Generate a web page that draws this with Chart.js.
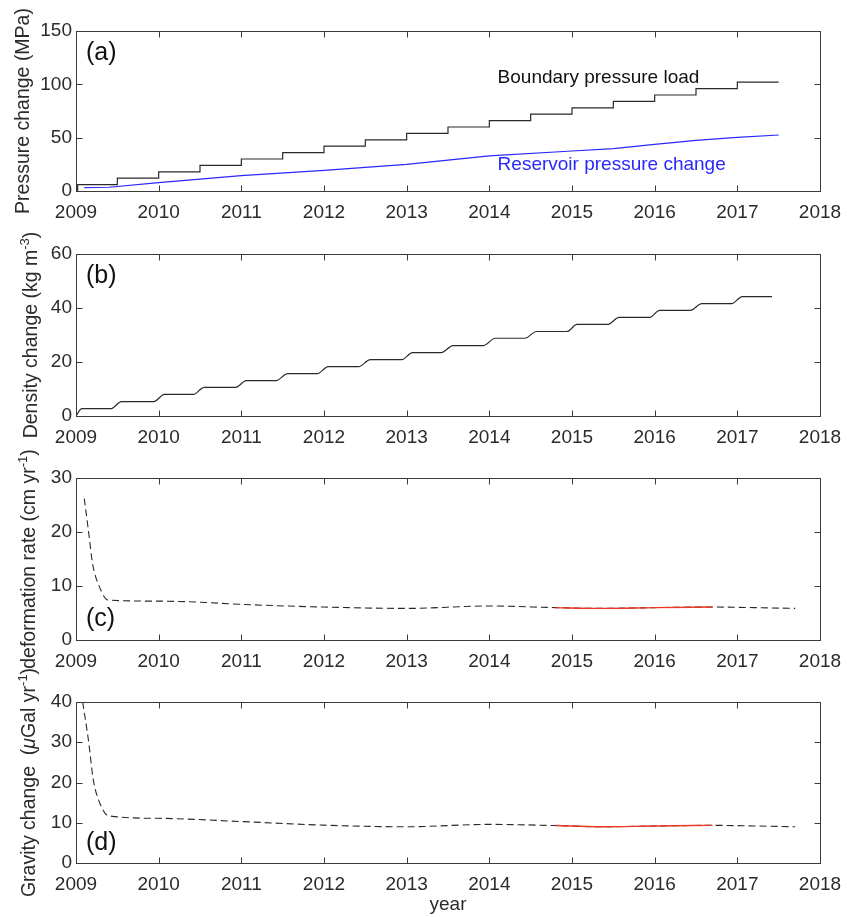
<!DOCTYPE html>
<html>
<head>
<meta charset="utf-8">
<script src="https://cdn.jsdelivr.net/npm/chart.js@4.4.1/dist/chart.umd.min.js"></script>
<style>
  html, body { margin: 0; padding: 0; background: #fff; }
  #wrap { position: relative; width: 847px; height: 917px; overflow: hidden; background: #fff; }
  #wrap canvas { position: absolute; left: 0; }
</style>
</head>
<body>
<div id="wrap">
  <canvas id="panelA"></canvas>
  <canvas id="panelB"></canvas>
  <canvas id="panelC"></canvas>
  <canvas id="panelD"></canvas>
</div>
<script>
// ---- shared axis ----
const yearTicks = [2009, 2010, 2011, 2012, 2013, 2014, 2015, 2016, 2017, 2018];

// ---- (a) pressure ----
const boundaryYears = [2009.02, 2009.02, 2009.5, 2010.0, 2010.5, 2011.0, 2011.5, 2012.0, 2012.5,
                       2013.0, 2013.5, 2014.0, 2014.5, 2015.0, 2015.5, 2016.0, 2016.5, 2017.0, 2017.5];
const boundaryLoad  = [0, 6, 12, 18, 24, 30, 36, 42, 48, 54, 60, 66, 72, 78, 84, 90, 96, 102, 102];
const reservoirYears    = [2009.1, 2009.4, 2010.0, 2011.0, 2012.0, 2013.0, 2013.5, 2014.0, 2015.0, 2015.5, 2016.0, 2016.5, 2017.0, 2017.5];
const reservoirPressure = [3.1, 3.5, 7.8, 14.4, 19.4, 25.0, 29.0, 33.0, 37.5, 39.7, 43.8, 47.5, 50.3, 52.5];
const pressureTicks = [0, 50, 100, 150];

// ---- (b) density ----
const densityYears  = [2009.0, 2009.07, 2009.42, 2009.55, 2009.94, 2010.07, 2010.42, 2010.55, 2010.93, 2011.06,
                       2011.42, 2011.56, 2011.92, 2012.05, 2012.42, 2012.56, 2012.94, 2013.07, 2013.42, 2013.56,
                       2013.93, 2014.07, 2014.43, 2014.57, 2014.94, 2015.06, 2015.43, 2015.57, 2015.94, 2016.06,
                       2016.43, 2016.57, 2016.93, 2017.06, 2017.42];
const densityChange = [0, 2.7, 2.7, 5.3, 5.3, 8.0, 8.0, 10.6, 10.6, 13.1,
                       13.1, 15.7, 15.7, 18.3, 18.3, 20.9, 20.9, 23.5, 23.5, 26.1,
                       26.1, 28.8, 28.8, 31.3, 31.3, 33.9, 33.9, 36.5, 36.5, 39.1,
                       39.1, 41.6, 41.6, 44.2, 44.2];
const densityTicks = [0, 20, 40, 60];

// ---- (c) deformation rate ----
const modelYears = [2009.1, 2009.15, 2009.2, 2009.29, 2009.39, 2010.0, 2010.5, 2011.0, 2012.0, 2013.0,
                    2014.0, 2014.8, 2015.35, 2016.0, 2016.7, 2017.2, 2017.7];
const modelRate  = [26.2, 20.3, 14.2, 9.6, 7.4, 7.2, 7.0, 6.6, 6.1, 5.85,
                    6.3, 6.0, 5.85, 6.0, 6.1, 6.0, 5.85];
const obsYears   = [2014.8, 2015.35, 2016.0, 2016.7];
const obsRate    = [6.0, 5.85, 6.0, 6.1];
const rateTicks  = [0, 10, 20, 30];

// ---- (d) gravity change ----
const gravModelYears = [2009.08, 2009.15, 2009.21, 2009.29, 2009.39, 2010.0, 2011.0, 2012.0, 2013.0,
                        2014.0, 2014.8, 2015.35, 2016.0, 2016.7, 2017.2, 2017.7];
const modelGravity   = [40.0, 30.6, 20.6, 14.8, 11.75, 11.1, 10.3, 9.4, 9.0,
                        9.6, 9.3, 9.0, 9.2, 9.35, 9.2, 9.0];
const obsGravity     = [9.3, 9.0, 9.2, 9.35];
const gravityTicks   = [0, 10, 20, 30, 40];

// ---- styling ----
const FONT = '"Liberation Sans", Arial, Helvetica, sans-serif';
const AXIS = '#3a3a3a';
const TICK_TEXT = '#2b2b2b';
const BLACK_LINE = '#2a2a2a';
const BLUE = 'rgb(40,40,255)';
const RED = 'rgb(236,56,36)';
const TEXT_SIZE = 19;
const TITLE_SIZE = 19.5;
const PAD_TOP = 45, X_AXIS_H = 30, PAD_BOTTOM = 55, Y_AXIS_W = 76, PAD_RIGHT = 27;

function pts(xs, ys) { return xs.map((x, i) => ({ x: x, y: ys[i] })); }

function drawYTitle(ctx, parts, baseX, centerY) {
  const main = TITLE_SIZE, small = 13;
  const fontOf = p => (p.italic ? 'italic ' : '') + (p.sup ? small : main) + 'px ' + FONT;
  let total = 0;
  parts.forEach(p => { ctx.font = fontOf(p); p.w = ctx.measureText(p.t).width; total += p.w; });
  ctx.save();
  ctx.translate(baseX, centerY);
  ctx.rotate(-Math.PI / 2);
  ctx.fillStyle = TICK_TEXT;
  ctx.textAlign = 'left';
  ctx.textBaseline = 'alphabetic';
  let cx = -total / 2;
  parts.forEach(p => {
    ctx.font = fontOf(p);
    ctx.fillText(p.t, cx, p.sup ? -8 : 0);
    cx += p.w;
  });
  ctx.restore();
}

function makePanel(id, plotTop, plotBottom, yMax, yTicks, datasets, decorate) {
  const canvas = document.getElementById(id);
  const h = PAD_TOP + (plotBottom - plotTop) + X_AXIS_H + PAD_BOTTOM;
  canvas.width = 847; canvas.height = h;
  canvas.style.top = (plotTop - PAD_TOP) + 'px';
  canvas.style.width = '847px'; canvas.style.height = h + 'px';

  const framePlugin = {
    id: 'frame_' + id,
    afterDraw(chart) {
      const { ctx, chartArea: a, scales: { x, y } } = chart;
      ctx.save();
      ctx.strokeStyle = AXIS;
      ctx.lineWidth = 1;
      const L = Math.round(a.left) + 0.5, R = Math.round(a.right) + 0.5;
      const T = Math.round(a.top) + 0.5, B = Math.round(a.bottom) + 0.5;
      ctx.strokeRect(L, T, R - L, B - T);
      ctx.beginPath();
      yearTicks.forEach(v => {
        const px = Math.round(x.getPixelForValue(v)) + 0.5;
        ctx.moveTo(px, B); ctx.lineTo(px, B - 6);
        ctx.moveTo(px, T); ctx.lineTo(px, T + 6);
      });
      yTicks.forEach(v => {
        const py = Math.round(y.getPixelForValue(v)) + 0.5;
        ctx.moveTo(L, py); ctx.lineTo(L + 6, py);
        ctx.moveTo(R, py); ctx.lineTo(R - 6, py);
      });
      ctx.stroke();
      ctx.restore();
      decorate(ctx, a, x, y);
    }
  };

  return new Chart(canvas, {
    type: 'line',
    data: { datasets: datasets },
    options: {
      responsive: false,
      animation: false,
      events: [],
      layout: { padding: { top: PAD_TOP, right: PAD_RIGHT, bottom: PAD_BOTTOM, left: 0 } },
      elements: { point: { radius: 0 } },
      plugins: { legend: { display: false }, tooltip: { enabled: false } },
      scales: {
        x: {
          type: 'linear', min: 2009, max: 2018,
          grid: { display: false, drawTicks: false },
          border: { display: false },
          afterBuildTicks: s => { s.ticks = yearTicks.map(v => ({ value: v })); },
          afterFit: s => { s.height = X_AXIS_H; s.paddingLeft = 0; s.paddingRight = 0; },
          ticks: {
            padding: 10, maxRotation: 0, autoSkip: false, color: TICK_TEXT,
            font: { family: FONT, size: TEXT_SIZE },
            callback: v => String(v)
          }
        },
        y: {
          type: 'linear', min: 0, max: yMax,
          grid: { display: false, drawTicks: false },
          border: { display: false },
          afterBuildTicks: s => { s.ticks = yTicks.map(v => ({ value: v })); },
          afterFit: s => { s.width = Y_AXIS_W; s.paddingTop = 0; s.paddingBottom = 0; },
          ticks: {
            padding: 4, autoSkip: false, color: TICK_TEXT,
            font: { family: FONT, size: TEXT_SIZE },
            callback: v => String(v)
          }
        }
      }
    },
    plugins: [framePlugin]
  });
}

function panelLetter(ctx, text, x, y) {
  ctx.save();
  ctx.fillStyle = '#111';
  ctx.font = '25px ' + FONT;
  ctx.textAlign = 'left';
  ctx.textBaseline = 'middle';
  ctx.fillText(text, x, y);
  ctx.restore();
}

// (a)
makePanel('panelA', 31, 191, 150, pressureTicks, [
  { data: pts(boundaryYears, boundaryLoad), borderColor: BLACK_LINE, borderWidth: 1.2, stepped: 'before', fill: false },
  { data: pts(reservoirYears, reservoirPressure), borderColor: BLUE, borderWidth: 1.2, tension: 0, fill: false }
], (ctx, a, x, y) => {
  panelLetter(ctx, '(a)', a.left + 10, a.top + 22);
  ctx.save();
  ctx.font = TEXT_SIZE + 'px ' + FONT;
  ctx.textAlign = 'left';
  ctx.textBaseline = 'alphabetic';
  ctx.fillStyle = '#111';
  ctx.fillText('Boundary pressure load', x.getPixelForValue(2014.1), y.getPixelForValue(101));
  ctx.fillStyle = BLUE;
  ctx.fillText('Reservoir pressure change', x.getPixelForValue(2014.1), y.getPixelForValue(19.7));
  ctx.restore();
  drawYTitle(ctx, [{ t: 'Pressure change (MPa)' }], 28.5, (a.top + a.bottom) / 2);
});

// (b)
makePanel('panelB', 254, 416, 60, densityTicks, [
  { data: pts(densityYears, densityChange), borderColor: BLACK_LINE, borderWidth: 1.2, cubicInterpolationMode: 'monotone', fill: false }
], (ctx, a, x, y) => {
  panelLetter(ctx, '(b)', a.left + 10, a.top + 22);
  drawYTitle(ctx, [{ t: 'Density change (kg m' }, { t: '-3', sup: true }, { t: ')' }], 37, (a.top + a.bottom) / 2);
});

// (c)
makePanel('panelC', 478, 640, 30, rateTicks, [
  { data: pts(obsYears, obsRate), borderColor: RED, borderWidth: 1.4, cubicInterpolationMode: 'monotone', fill: false },
  { data: pts(modelYears, modelRate), borderColor: BLACK_LINE, borderWidth: 1.1, borderDash: [7, 4], cubicInterpolationMode: 'monotone', fill: false }
], (ctx, a, x, y) => {
  panelLetter(ctx, '(c)', a.left + 10, a.bottom - 21);
  drawYTitle(ctx, [{ t: 'deformation rate (cm yr' }, { t: '-1', sup: true }, { t: ')' }], 35, (a.top + a.bottom) / 2);
});

// (d)
makePanel('panelD', 702, 863, 40, gravityTicks, [
  { data: pts(obsYears, obsGravity), borderColor: RED, borderWidth: 1.4, cubicInterpolationMode: 'monotone', fill: false },
  { data: pts(gravModelYears, modelGravity), borderColor: BLACK_LINE, borderWidth: 1.1, borderDash: [7, 4], cubicInterpolationMode: 'monotone', fill: false }
], (ctx, a, x, y) => {
  panelLetter(ctx, '(d)', a.left + 10, a.bottom - 20);
  drawYTitle(ctx, [{ t: 'Gravity change  (' }, { t: 'μ', italic: true }, { t: 'Gal yr' }, { t: '-1', sup: true }, { t: ')' }], 35, (a.top + a.bottom) / 2);
  ctx.save();
  ctx.font = TEXT_SIZE + 'px ' + FONT;
  ctx.fillStyle = TICK_TEXT;
  ctx.textAlign = 'center';
  ctx.textBaseline = 'alphabetic';
  ctx.fillText('year', (a.left + a.right) / 2, a.bottom + 47);
  ctx.restore();
});
</script>
</body>
</html>
